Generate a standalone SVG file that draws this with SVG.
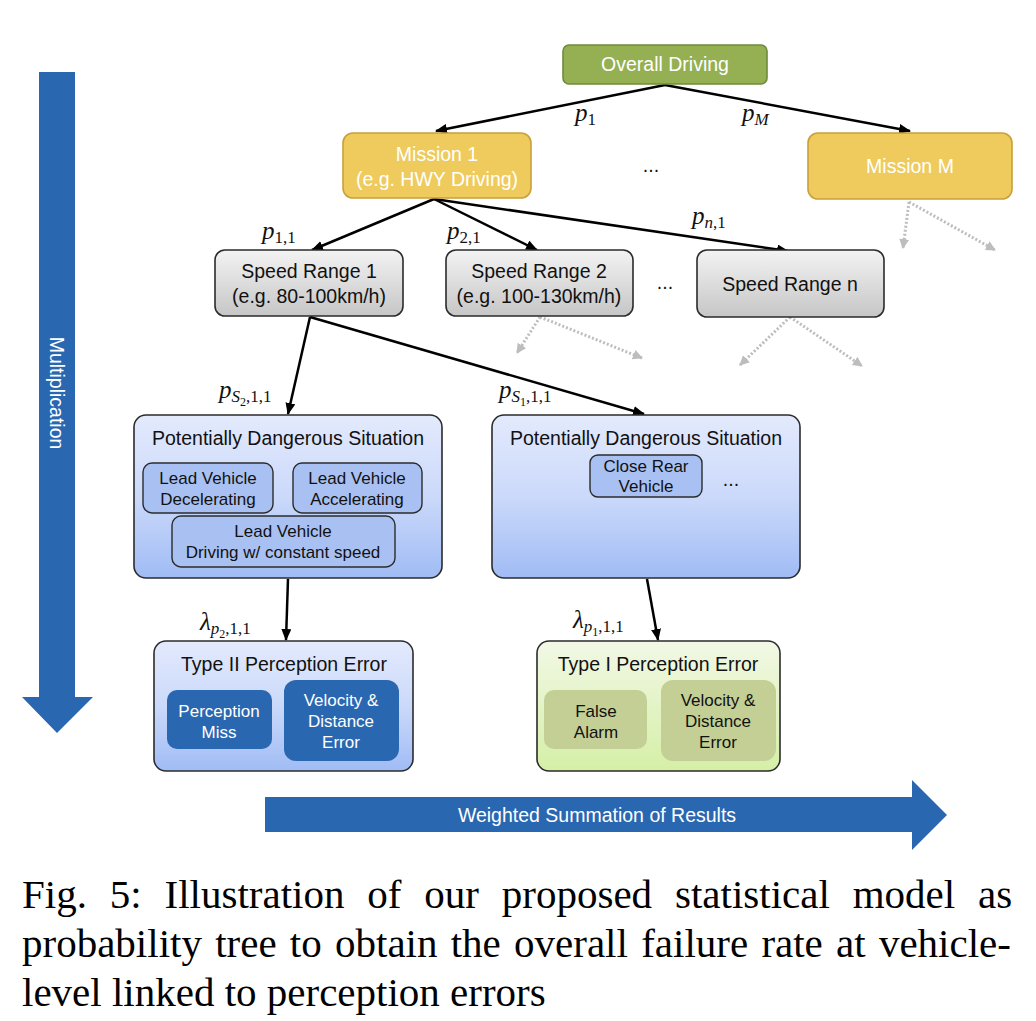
<svg xmlns="http://www.w3.org/2000/svg" width="1036" height="1021" viewBox="0 0 1036 1021">
<defs>
<linearGradient id="gGray" x1="0" y1="0" x2="0" y2="1"><stop offset="0" stop-color="#F3F3F3"/><stop offset="1" stop-color="#C6C6C6"/></linearGradient>
<linearGradient id="gBlue" x1="0" y1="0" x2="0" y2="1"><stop offset="0" stop-color="#E3EAFD"/><stop offset="0.5" stop-color="#CBD9FA"/><stop offset="1" stop-color="#A0BCF5"/></linearGradient>
<linearGradient id="gGreen" x1="0" y1="0" x2="0" y2="1"><stop offset="0" stop-color="#F2F8E6"/><stop offset="1" stop-color="#D5EFA6"/></linearGradient>
<marker id="ah" markerWidth="12" markerHeight="10" refX="11" refY="5" orient="auto" markerUnits="userSpaceOnUse"><path d="M0,0 L12,5 L0,10 Z" fill="#000"/></marker>
<marker id="ahg" markerWidth="10" markerHeight="10" refX="9" refY="5" orient="auto" markerUnits="userSpaceOnUse"><path d="M0,0 L10,5 L0,10 Z" fill="#BDBDBD"/></marker>
<style>
.t{font-family:"Liberation Sans",Arial,sans-serif;font-size:19.5px;text-anchor:middle}
.ti{font-family:"Liberation Sans",Arial,sans-serif;font-size:17px;text-anchor:middle}
.w{fill:#FFFFFF}
.k{fill:#111111}
.box{stroke:#2B2B2B;stroke-width:1.6}
.inb{fill:#A9C1F2;stroke:#2B2B2B;stroke-width:1.4}
.m{font-family:"Liberation Serif","Times New Roman",serif;font-size:25px;fill:#111}
.it{font-style:italic}
.sb{font-size:17px}
.ssb{font-size:12px}
.con{stroke:#000;stroke-width:2.5;fill:none;marker-end:url(#ah)}
.dot{stroke:#BDBDBD;stroke-width:3;stroke-dasharray:2 2;fill:none;marker-end:url(#ahg)}
.cap{font-family:"Liberation Serif","Times New Roman",serif;font-size:41px;fill:#000}
</style>
</defs>
<rect width="1036" height="1021" fill="#FFFFFF"/>

<g id="multiplication-arrow">
<path d="M39,72 H75 V697 H93 L57,733 L22,697 H39 Z" fill="#2A67B1"/>
<text class="t w" transform="translate(57,393) rotate(90)" dy="7">Multiplication</text>
</g>

<g id="summation-arrow">
<path d="M265,797 H912 V780 L947,815 L912,850 V832 H265 Z" fill="#2A67B1"/>
<text class="t w" x="597" y="822">Weighted Summation of Results</text>
</g>

<g id="connectors">
<path class="con" d="M665,85 L436,131"/>
<path class="con" d="M665,85 L910,131"/>
<path class="con" d="M434,199 L312,250"/>
<path class="con" d="M434,199 L537,250"/>
<path class="con" d="M434,199 L788,251"/>
<path class="con" d="M310,317 L288,414"/>
<path class="con" d="M310,317 L644,414"/>
<path class="con" d="M288,579 L286,640"/>
<path class="con" d="M647,579 L658,640"/>
<path class="dot" d="M909,202 L903,248"/>
<path class="dot" d="M909,202 L995,250"/>
<path class="dot" d="M540,317 L517,353"/>
<path class="dot" d="M540,317 L642,358"/>
<path class="dot" d="M790,317 L740,365"/>
<path class="dot" d="M790,317 L862,366"/>
</g>

<g id="labels">
<text class="m" x="575" y="121"><tspan class="it">p</tspan><tspan class="sb" dy="4">1</tspan></text>
<text class="m" x="742" y="121"><tspan class="it">p</tspan><tspan class="sb it" dy="4">M</tspan></text>
<text class="m" x="262" y="239"><tspan class="it">p</tspan><tspan class="sb" dy="4">1,1</tspan></text>
<text class="m" x="447" y="239"><tspan class="it">p</tspan><tspan class="sb" dy="4">2,1</tspan></text>
<text class="m" x="692" y="224"><tspan class="it">p</tspan><tspan class="sb" dy="4"><tspan class="it">n</tspan>,1</tspan></text>
<text class="m" x="219" y="398"><tspan class="it">p</tspan><tspan class="sb it" dy="4">S</tspan><tspan class="ssb" dy="4">2</tspan><tspan class="sb" dy="-4">,1,1</tspan></text>
<text class="m" x="499" y="398"><tspan class="it">p</tspan><tspan class="sb it" dy="4">S</tspan><tspan class="ssb" dy="4">1</tspan><tspan class="sb" dy="-4">,1,1</tspan></text>
<text class="m" x="200" y="630"><tspan class="it">λ</tspan><tspan class="sb it" dy="4">p</tspan><tspan class="ssb" dy="4">2</tspan><tspan class="sb" dy="-4">,1,1</tspan></text>
<text class="m" x="573" y="628"><tspan class="it">λ</tspan><tspan class="sb it" dy="4">p</tspan><tspan class="ssb" dy="4">1</tspan><tspan class="sb" dy="-4">,1,1</tspan></text>
</g>

<g id="overall-driving">
<rect x="563" y="45" width="204" height="39" rx="6" fill="#94B052" stroke="#6E8A3B" stroke-width="1.6"/>
<text class="t w" x="665" y="71">Overall Driving</text>
</g>

<g id="mission-1">
<rect x="343" y="133" width="188" height="65" rx="10" fill="#EECB5C" stroke="#C9A03A" stroke-width="1.6"/>
<text class="t w" x="437" y="161">Mission 1</text>
<text class="t w" x="437" y="186">(e.g. HWY Driving)</text>
</g>

<g id="mission-dots"><text class="t k" x="651" y="172">...</text></g>

<g id="mission-m">
<rect x="808" y="133" width="204" height="66" rx="10" fill="#EECB5C" stroke="#C9A03A" stroke-width="1.6"/>
<text class="t w" x="910" y="173">Mission M</text>
</g>

<g id="speed-range-1">
<rect class="box" x="215" y="250" width="188" height="66" rx="10" fill="url(#gGray)"/>
<text class="t k" x="309" y="278">Speed Range 1</text>
<text class="t k" x="309" y="303">(e.g. 80-100km/h)</text>
</g>

<g id="speed-range-2">
<rect class="box" x="446" y="250" width="187" height="66" rx="10" fill="url(#gGray)"/>
<text class="t k" x="539" y="278">Speed Range 2</text>
<text class="t k" x="539" y="303">(e.g. 100-130km/h)</text>
</g>

<g id="speed-dots"><text class="t k" x="665" y="289">...</text></g>

<g id="speed-range-n">
<rect class="box" x="697" y="250" width="187" height="67" rx="10" fill="url(#gGray)"/>
<text class="t k" x="790" y="291">Speed Range n</text>
</g>

<g id="pds-left">
<rect class="box" x="134" y="415" width="308" height="163" rx="12" fill="url(#gBlue)"/>
<text class="t k" x="288" y="445">Potentially Dangerous Situation</text>
<rect class="inb" x="143" y="463" width="130" height="50" rx="9"/>
<text class="ti k" x="208" y="484">Lead Vehicle</text>
<text class="ti k" x="208" y="505">Decelerating</text>
<rect class="inb" x="293" y="463" width="129" height="50" rx="9"/>
<text class="ti k" x="357" y="484">Lead Vehicle</text>
<text class="ti k" x="357" y="505">Accelerating</text>
<rect class="inb" x="172" y="516" width="223" height="51" rx="9"/>
<text class="ti k" x="283" y="537">Lead Vehicle</text>
<text class="ti k" x="283" y="558">Driving w/ constant speed</text>
</g>

<g id="pds-right">
<rect class="box" x="492" y="415" width="308" height="163" rx="12" fill="url(#gBlue)"/>
<text class="t k" x="646" y="445">Potentially Dangerous Situation</text>
<rect class="inb" x="590" y="455" width="112" height="42" rx="8"/>
<text class="ti k" x="646" y="472">Close Rear</text>
<text class="ti k" x="646" y="492">Vehicle</text>
<text class="t k" x="731" y="486">...</text>
</g>

<g id="type-ii">
<rect class="box" x="154" y="641" width="259" height="130" rx="12" fill="url(#gBlue)"/>
<text class="t k" x="284" y="671">Type II Perception Error</text>
<rect x="167" y="690" width="105" height="59" rx="10" fill="#2A67B1"/>
<text class="ti w" x="219" y="717">Perception</text>
<text class="ti w" x="219" y="738">Miss</text>
<rect x="284" y="680" width="115" height="81" rx="12" fill="#2A67B1"/>
<text class="ti w" x="341" y="706">Velocity &amp;</text>
<text class="ti w" x="341" y="727">Distance</text>
<text class="ti w" x="341" y="748">Error</text>
</g>

<g id="type-i">
<rect class="box" x="537" y="641" width="243" height="130" rx="12" fill="url(#gGreen)"/>
<text class="t k" x="658" y="671">Type I Perception Error</text>
<rect x="544" y="690" width="103" height="59" rx="10" fill="#C3CF94"/>
<text class="ti k" x="596" y="717">False</text>
<text class="ti k" x="596" y="738">Alarm</text>
<rect x="661" y="680" width="115" height="81" rx="12" fill="#C3CF94"/>
<text class="ti k" x="718" y="706">Velocity &amp;</text>
<text class="ti k" x="718" y="727">Distance</text>
<text class="ti k" x="718" y="748">Error</text>
</g>

<g id="caption">
<text class="cap" x="22" y="908" word-spacing="12.6">Fig. 5: Illustration of our proposed statistical model as</text>
<text class="cap" x="22" y="957" word-spacing="3">probability tree to obtain the overall failure rate at vehicle-</text>
<text class="cap" x="22" y="1006">level linked to perception errors</text>
</g>
</svg>
